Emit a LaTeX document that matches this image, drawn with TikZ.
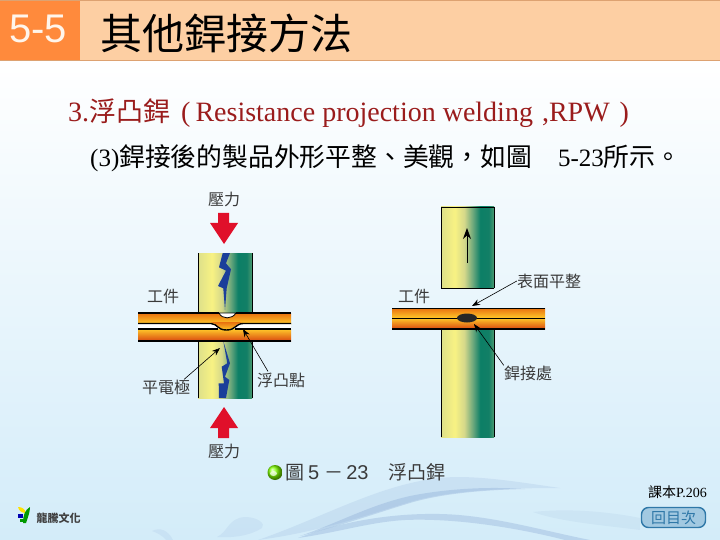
\documentclass[tikz,border=0pt]{standalone}
\usepackage{xcolor}
\usepackage{fontspec}
\setmainfont{Liberation Serif}
\setsansfont{Liberation Sans}
\newfontfamily\cjk{Noto Sans CJK TC}
\usetikzlibrary{arrows.meta, shapes.geometric}
\definecolor{bandorange}{HTML}{FF8A3C}
\definecolor{bandpeach}{HTML}{FDCFA3}
\definecolor{bandline}{HTML}{DDA271}
\definecolor{skyblue}{HTML}{D3ECF9}
\definecolor{waveblue}{HTML}{7F9FD0}
\definecolor{labelgray}{HTML}{3A3A3A}
\definecolor{headred}{HTML}{9A1C1C}
\definecolor{boltblue}{HTML}{1B3F9A}
\definecolor{pressred}{HTML}{E0102A}
\definecolor{plateorange}{HTML}{E8700F}
\definecolor{platered}{HTML}{D9480F}
\definecolor{plateyellow}{HTML}{FFC82A}
\definecolor{btnblue}{HTML}{2F78A8}
\definecolor{elecA}{HTML}{DDE08A}
\definecolor{elecB}{HTML}{F8F283}
\definecolor{elecC}{HTML}{D5D88A}
\definecolor{elecD}{HTML}{5FA27A}
\definecolor{elecE}{HTML}{0C7F66}
\definecolor{elecF}{HTML}{127F66}
\definecolor{elecG}{HTML}{4C9A70}
\pgfdeclarehorizontalshading{electrode}{100bp}{
  color(0bp)=(elecA); color(25bp)=(elecA); color(38bp)=(elecB);
  color(47bp)=(elecC); color(56bp)=(elecD); color(62bp)=(elecE);
  color(70bp)=(elecF); color(75bp)=(elecG); color(100bp)=(elecG)}
\begin{document}
\begin{tikzpicture}[x=1pt, y=-1pt,
    lbl/.style={font=\cjk\fontsize{16}{18}\selectfont, text=labelgray, inner sep=0pt},
    leader/.style={-{Stealth[length=8pt,width=6pt]}, semithick, color=black},
    electrodebox/.style={shading=electrode},
    plate/.style={top color=plateorange, bottom color=plateyellow},
    platelow/.style={top color=plateyellow, bottom color=platered},
    pressarrow/.style={fill=pressred, draw=none},
    bolt/.style={fill=boltblue, draw=none},
    wave/.style={fill=waveblue, draw=none, fill opacity=0.16}
]
\useasboundingbox (0,0) rectangle (720,540);
% background and header
\shade[top color=white, bottom color=skyblue] (0,60) rectangle (720,540);
\fill[bandpeach] (80,0) rectangle (720,60);
\fill[bandorange] (0,0) rectangle (80,60);
\draw[bandline, thick] (0,0.5) -- (720,0.5);
\draw[bandline, thick] (0,60.5) -- (720,60.5);
% waves
\fill[wave] (258,540) .. controls (330,515) and (390,478) .. (457,477) .. controls (490,477) and (525,483) .. (560,488) .. controls (510,488) and (450,490) .. (410,502) .. controls (370,514) and (320,532) .. cycle;
\fill[wave, fill opacity=0.3] (300,536) .. controls (340,522) and (370,505) .. (410,496) .. controls (440,490) and (480,486) .. (525,489) .. controls (480,490) and (440,494) .. (410,503) .. controls (380,512) and (340,526) .. cycle;
\fill[wave, fill opacity=0.3] (298,538) .. controls (340,522) and (390,513) .. (440,514) .. controls (490,515) and (540,530) .. (590,540) -- (565,540) .. controls (510,526) and (450,518) .. (405,520) .. controls (370,522) and (340,532) .. cycle;
\fill[wave, fill opacity=0.1] (533,512) .. controls (570,508) and (610,512) .. (640,518) -- (640,530) .. controls (610,526) and (560,522) .. cycle;
\fill[wave, fill opacity=0.12] (217,537) .. controls (228,532) and (228,518) .. (245,517) .. controls (258,517) and (266,524) .. (262,528) .. controls (250,536) and (232,538) .. cycle;
\fill[wave, fill opacity=0.12] (152,531) .. controls (160,527) and (168,530) .. (173,540) -- (166,540) .. controls (162,535) and (157,533) .. cycle;
% titles
\node[text=white!92!orange, font=\sffamily\fontsize{40}{44}\selectfont, inner sep=0pt] (secnum) at (38,29) {5-5};
\node[anchor=west, font=\cjk\fontsize{42}{44}\selectfont, inner sep=0pt] (title) at (100,33) {其他銲接方法};
\node[anchor=west, text=headred, font=\fontsize{28}{30}\selectfont, inner sep=0pt] (heading) at (68,113) {3.{\cjk\fontsize{27}{30}\selectfont 浮凸銲}\hspace{11pt}(\hspace{5pt}Resistance projection welding\hspace{9pt},RPW\hspace{10pt})};
\node[anchor=west, font=\fontsize{25}{30}\selectfont, inner sep=0pt] (point) at (90,158) {(3){\cjk\fontsize{25.8}{30}\selectfont 銲接後的製品外形平整、美觀，如圖}\hspace{26pt}5-23{\cjk\fontsize{25.8}{30}\selectfont 所示。}};
% left figure
\shade[electrodebox] (198,253) rectangle (252,313);
\shade[electrodebox] (198,341) rectangle (252,398);
\draw[black, thick] (198,253) -- (198,313) (252,253) -- (252,313);
\draw[black, thick] (198,341) -- (198,398) (252,341) -- (252,398);
\fill[bolt] (222.7,253) -- (219,267.3) -- (226,270.7) -- (218,286) -- (223.3,288.3) -- (225,310) -- (226.7,288.3) -- (231,269.3) -- (226,263.3) -- (230,253) -- cycle;
\fill[bolt] (223.3,341) -- (230,363.3) -- (225,376.7) -- (229.3,380) -- (226,398) -- (219,398) -- (218.7,383.3) -- (224,383.3) -- (221.7,366.7) -- (227.3,363.3) -- cycle;
\shade[plate] (138,313) rectangle (291,324);
\shade[platelow] (138,329) rectangle (291,341);
\fill[white] (138,324) rectangle (291,329);
\shade[top color=plateorange, bottom color=plateyellow] (211,322) .. controls (218,323) and (217,330) .. (226.5,330) .. controls (236,330) and (235,323) .. (243,322) -- cycle;
\fill[white, draw=black, thick] (219,313) .. controls (222,319.5) and (232,319.5) .. (236,313) -- cycle;
\draw[black, line width=1.4pt] (138,313) -- (219,313) (236,313) -- (291,313);
\draw[black, line width=1.4pt] (138,323.5) -- (211,323.5) .. controls (218,324) and (217,330) .. (226.5,330) .. controls (236,330) and (235,324) .. (243,323.5) -- (291,323.5);
\draw[black, line width=1.4pt] (138,329) -- (218,329) (235,329) -- (291,329);
\draw[black, line width=1.6pt] (138,341) -- (291,341);
\fill[pressarrow] (218,213) -- (229,213) -- (229,223) -- (238,223) -- (224,244) -- (210,223) -- (218,223) -- cycle;
\fill[pressarrow] (218,438) -- (229,438) -- (229,428) -- (238,428) -- (224,407) -- (210,428) -- (218,428) -- cycle;
\node[lbl] (presstop) at (224,199) {壓力};
\node[lbl] (pressbot) at (224,451) {壓力};
\node[lbl] (workleft) at (163,296) {工件};
\node[lbl] (flatelec) at (166,387) {平電極};
\node[lbl] (bumppt) at (281,380) {浮凸點};
\coordinate (flattip) at (220,348);
\coordinate (bumptip) at (243,329);
\draw[leader] (flatelec.north) ++(18,0) -- (flattip);
\draw[leader] (bumppt.north) ++(-13,-1) -- (bumptip);
% right figure
\shade[electrodebox] (441,207) rectangle (494,288);
\shade[electrodebox] (441,329) rectangle (494,437);
\draw[black, thick] (441,288) -- (441,207) (494,207) -- (494,288);
\draw[black, thick] (441,288) -- (494,288);
\draw[black, thin] (441,207) -- (494,207);
\draw[black, thick] (441,329) -- (441,437) (494,329) -- (494,437);
\shade[plate] (392,308) rectangle (545,318);
\shade[platelow] (392,318) rectangle (545,329);
\draw[black, thick] (392,308) -- (545,308) (392,318) -- (545,318);
\draw[black, line width=1.4pt] (392,329) -- (545,329);
\node[ellipse, fill=black!85, minimum width=20pt, minimum height=9pt, inner sep=0pt] (weld) at (467,318) {};
\coordinate (upfrom) at (467,263);
\coordinate (upto) at (467,228);
\draw[-{Stealth[length=11pt,width=8pt]}, thick] (upfrom) -- (upto);
\node[lbl] (workright) at (414,296) {工件};
\node[lbl] (flatface) at (549,281) {表面平整};
\node[lbl] (weldspot) at (528,373) {銲接處};
\coordinate (flattip2) at (472,306);
\coordinate (weldtip) at (474,324);
\draw[leader] (flatface.west) -- (flattip2);
\draw[leader] (weldspot.north west) -- (weldtip);
% caption
\shade[ball color=green!50!yellow] (275,472.5) circle (7.5);
\fill[white, opacity=0.7] (273.5,473.5) ellipse (3.5 and 2.5);
\node[anchor=west, text=labelgray, font=\cjk\fontsize{19}{21}\selectfont, inner sep=0pt] (cap) at (285,472) {圖\hspace{4pt}{\sffamily\fontsize{20}{21}\selectfont 5}\hspace{5pt}－\hspace{3pt}{\sffamily\fontsize{20}{21}\selectfont 23}\hspace{20pt}浮凸銲};
% footer
\node[anchor=east, font=\fontsize{14}{16}\selectfont, inner sep=0pt] (textbook) at (707,492) {{\cjk 課本}P.206};
\node[draw=btnblue, line width=1.4pt, fill=skyblue!70!btnblue, rounded corners=7pt, minimum width=64pt, minimum height=20pt, inner sep=0pt, text=btnblue, font=\cjk\fontsize{15}{16}\selectfont] (btnback) at (673.5,517.5) {回目次};
\fill[yellow!85!orange] (18,507) .. controls (22,507) and (25,509) .. (26,513) .. controls (22,513) and (19,511) .. cycle;
\fill[green!60!black] (23,523) .. controls (23,515) and (25,510) .. (30,507) .. controls (30,512) and (28,517) .. (26,523) -- cycle;
\fill[blue!70!black] (18,514) rectangle (22.5,518);
\fill[green!60!black] (20,518.5) rectangle (23,522);
\node[anchor=west, text=black!75, font=\cjk\bfseries\fontsize{11}{13}\selectfont, inner sep=0pt] (brand) at (36.5,518) {龍騰文化};
\end{tikzpicture}
\end{document}
